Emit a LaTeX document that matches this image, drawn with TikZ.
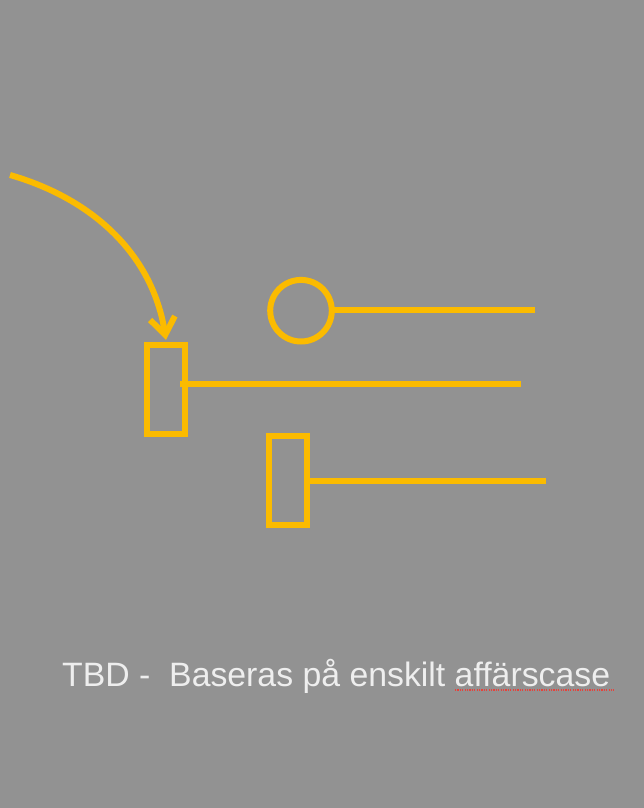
\documentclass[tikz,border=0pt]{standalone}
\usepackage{fontspec}
\setmainfont{Liberation Sans}
\usetikzlibrary{arrows.meta,calc}
\definecolor{bggray}{HTML}{929292}
\definecolor{amber}{HTML}{FBBB00}
\definecolor{txtwhite}{HTML}{EEEEEE}
\definecolor{spellred}{HTML}{E8403A}
\begin{document}
\begin{tikzpicture}[x=1pt,y=-1pt,
  yel/.style={draw=amber,line width=6pt},
  barbox/.style={yel,rectangle,minimum width=38pt,minimum height=89pt,inner sep=0pt,outer sep=0pt},
  ring/.style={yel,circle,minimum size=61.6pt,inner sep=0pt,outer sep=0pt},
  stem/.style={yel,line cap=butt},
  lbl/.style={text=txtwhite,font=\fontsize{33.8}{40}\selectfont,inner sep=0pt,anchor=base west}]
\fill[bggray] (0,0) rectangle (644,808);
\useasboundingbox (0,0) rectangle (644,808);
% shapes
\node[barbox] (rect1) at (166,389.3) {};
\node[barbox] (rect2) at (288,480.3) {};
\node[ring] (circ) at (301,310.7) {};
% free ends
\coordinate (c0e) at (535,310);
\coordinate (l1s) at (180,384);
\coordinate (l1e) at (521,384);
\coordinate (l2e) at (546,481);
\coordinate (arrs) at (10,175);
% stems
\draw[stem] (circ.east |- c0e) -- (c0e);
\draw[stem] (l1s) -- (l1e);
\draw[stem] (rect2.east |- l2e) -- (l2e);
% curved arrow
\draw[yel,-{Straight Barb[length=17pt,width=25pt,line width=6pt]}]
  (arrs) .. controls (90,198) and (152,252) .. ($(rect1.north)+(0,-5)$);
% label
\node[lbl] (txt) at (62,686.7) {TBD -\ \ Baseras på enskilt \smash{affärscase}};
\draw[spellred,line width=1.2pt,dash pattern=on 1.2pt off 1.2pt] (455,690) -- (614,690);
\end{tikzpicture}
\end{document}
